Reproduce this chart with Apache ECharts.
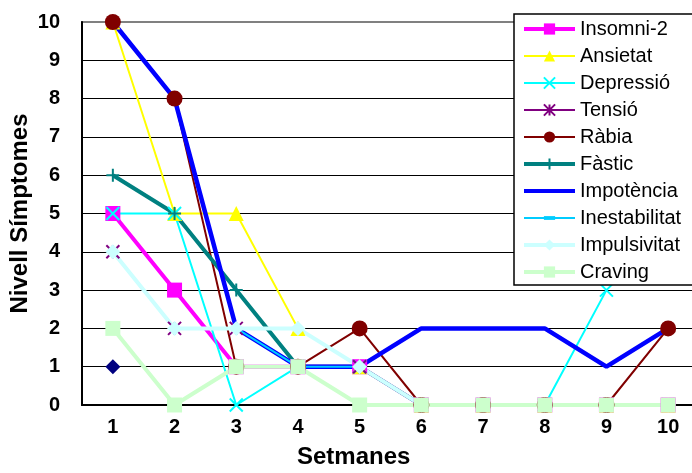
<!DOCTYPE html>
<html>
<head>
<meta charset="utf-8">
<script src="https://cdn.jsdelivr.net/npm/echarts@6/dist/echarts.min.js"></script>
<style>
html, body { margin: 0; padding: 0; background: #fff; }
#chart { width: 692px; height: 473px; }
</style>
</head>
<body>
<div id="chart"></div>
<script>
// Weekly symptom levels (0-10 scale)
const weeks = ['1', '2', '3', '4', '5', '6', '7', '8', '9', '10'];

const serie1        = [1, null, null, null, null, null, null, null, null, null];
const insomni2      = [5, 3, 1, 1, 1, 0, 0, 0, 0, 0];
const ansietat      = [10, 5, 5, 2, 1, 0, 0, 0, 0, 0];
const depressio     = [5, 5, 0, 1, 1, 0, 0, 0, 3, null];
const tensio        = [4, 2, 2, 1, 1, 0, 0, 0, 0, 0];
const rabia         = [10, 8, 1, 1, 2, 0, 0, 0, 0, 2];
const fastic        = [6, 5, 3, 1, 1, 0, 0, 0, 0, 0];
const impotencia    = [10, 8, 2, 1, 1, 2, 2, 2, 1, 2];
const inestabilitat = [null, null, 2, 1, 1, 0, 0, 0, 0, 0];
const impulsivitat  = [4, 2, 2, 2, 1, 0, 0, 0, 0, 0];
const craving       = [2, 0, 1, 1, 0, 0, 0, 0, 0, 0];

const FONT = "'Liberation Sans', Arial, sans-serif";

// stroked marker shapes (square bounding boxes so they keep their shape in the legend)
const SYM_CROSS = 'path://M0,0L10,10M10,0L0,10';
const SYM_STAR = 'path://M0,0L10,10M10,0L0,10M5,0L5,10';
const SYM_PLUS = 'path://M5,0L5,10M0,5L10,5';
const SYM_DASH = 'path://M0,0M10,10M0,3.3L10,3.3L10,6.7L0,6.7Z';

function lineSeries(name, data, color, width, symbol, size, stroked) {
  return {
    name: name,
    type: 'line',
    data: data,
    clip: false,
    connectNulls: false,
    symbol: symbol,
    symbolSize: size,
    showSymbol: symbol !== 'none',
    lineStyle: { color: color, width: width },
    itemStyle: stroked
      ? { color: color, borderColor: color, borderWidth: 2 }
      : { color: color, borderWidth: 0 },
    emphasis: { disabled: true },
    animation: false
  };
}

const series = [
  lineSeries('Sèrie1', serie1, '#000080', 2, 'diamond', 15, false),
  lineSeries('Insomni-2', insomni2, '#FF00FF', 4, 'rect', 15, false),
  lineSeries('Ansietat', ansietat, '#FFFF00', 2, 'triangle', 15, false),
  lineSeries('Depressió', depressio, '#00FFFF', 2, SYM_CROSS, 13, true),
  lineSeries('Tensió', tensio, '#800080', 2, SYM_STAR, 13, true),
  lineSeries('Ràbia', rabia, '#800000', 2, 'circle', 16, false),
  lineSeries('Fàstic', fastic, '#008080', 4, SYM_PLUS, 13, true),
  lineSeries('Impotència', impotencia, '#0000FF', 4.5, 'none', 1, false),
  lineSeries('Inestabilitat', inestabilitat, '#00CCFF', 2, SYM_DASH, 10, false),
  lineSeries('Impulsivitat', impulsivitat, '#CCFFFF', 4, 'diamond', 15, false),
  lineSeries('Craving', craving, '#CCFFCC', 4, 'rect', 15, false)
];

const legendItems = [
  { name: 'Insomni-2', lineStyle: { width: 4 } },
  { name: 'Ansietat', lineStyle: { width: 2 } },
  { name: 'Depressió', lineStyle: { width: 2 } },
  { name: 'Tensió', lineStyle: { width: 2 } },
  { name: 'Ràbia', lineStyle: { width: 2 } },
  { name: 'Fàstic', lineStyle: { width: 4 } },
  { name: 'Impotència', lineStyle: { width: 4 }, itemStyle: { opacity: 0 } },
  { name: 'Inestabilitat', lineStyle: { width: 2 } },
  { name: 'Impulsivitat', lineStyle: { width: 4 } },
  { name: 'Craving', lineStyle: { width: 4 } }
];

const chart = echarts.init(document.getElementById('chart'), null, { renderer: 'canvas' });

chart.setOption({
  backgroundColor: '#fff',
  animation: false,
  textStyle: { fontFamily: FONT, color: '#000' },
  title: {
    text: 'Setmanes',
    left: 297,
    top: 445,
    padding: 0,
    textStyle: { fontFamily: FONT, fontSize: 24, fontWeight: 'bold', color: '#000' }
  },
  grid: {
    left: 82,
    top: 22,
    right: -7,
    bottom: 68,
    show: true,
    borderColor: '#808080',
    borderWidth: 2,
    containLabel: false,
    outerBoundsMode: 'none'
  },
  legend: {
    orient: 'vertical',
    left: 514,
    top: 14,
    data: legendItems,
    selectedMode: false,
    backgroundColor: '#fff',
    borderColor: '#000',
    borderWidth: 1.5,
    padding: [5, 30, 3, 8],
    itemWidth: 51,
    itemHeight: 14,
    itemGap: 7,
    textStyle: { fontFamily: FONT, fontSize: 20, lineHeight: 20, color: '#000' }
  },
  xAxis: {
    type: 'category',
    data: weeks,
    boundaryGap: true,
    axisLine: { show: true, lineStyle: { color: '#000', width: 2 } },
    axisTick: { show: false },
    axisLabel: { margin: 12, fontFamily: FONT, fontSize: 20, fontWeight: 'bold', color: '#000' },
    splitLine: { show: false }
  },
  yAxis: {
    type: 'value',
    min: 0,
    max: 10,
    interval: 1,
    name: 'Nivell Símptomes',
    nameLocation: 'middle',
    nameRotate: 90,
    nameGap: 50,
    nameMoveOverlap: false,
    nameTextStyle: { fontFamily: FONT, fontSize: 24, fontWeight: 'bold', color: '#000' },
    axisLine: { show: true, lineStyle: { color: '#000', width: 2 } },
    axisTick: { show: false },
    axisLabel: { margin: 22, fontFamily: FONT, fontSize: 20, fontWeight: 'bold', color: '#000' },
    splitLine: { show: true, showMaxLine: false, lineStyle: { color: '#000', width: 1.2 } }
  },
  series: series
});
</script>
</body>
</html>
